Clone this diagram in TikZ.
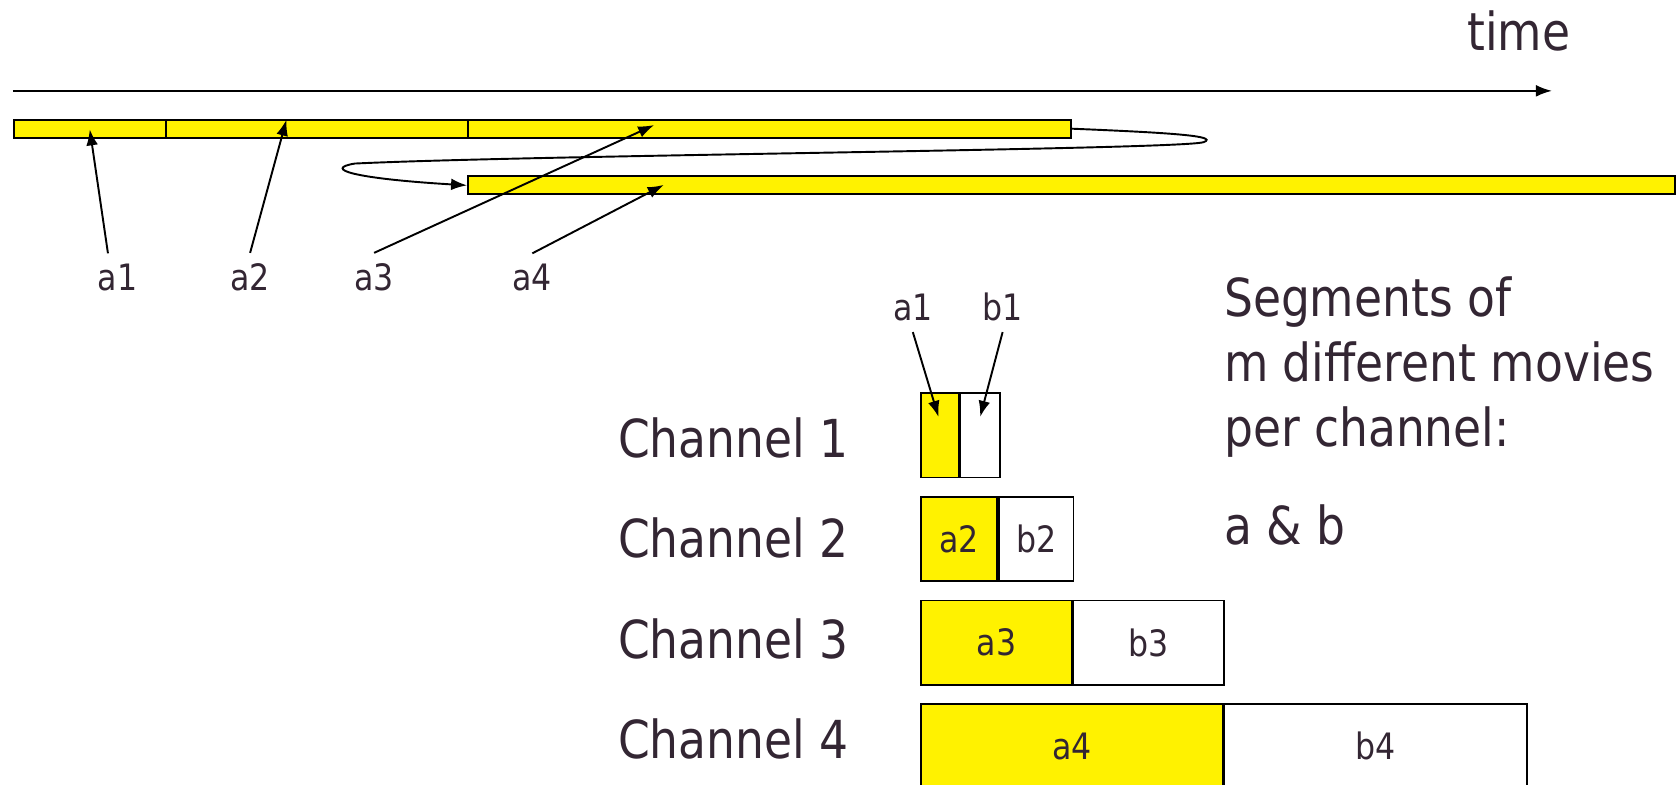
\documentclass[tikz,border=0pt]{standalone}
\usepackage{fontspec}
\setmainfont{DejaVu Sans}[FakeStretch=0.87]
\usetikzlibrary{arrows.meta,positioning}
\definecolor{inkdark}{RGB}{51,38,51}
\tikzset{
segbar/.style={draw,fill=yellow,line width=1.8pt,minimum height=17pt,inner sep=0pt,anchor=north west},
chanbox/.style={draw,line width=1.6pt,minimum height=79pt,inner sep=0pt,text=inkdark,font=\fontsize{34}{40}\selectfont},
moviebox/.style={chanbox,fill=yellow},
tag/.style={text=inkdark,font=\fontsize{34}{40}\selectfont,inner sep=10pt},
bigtext/.style={text=inkdark,font=\fontsize{49}{60}\selectfont,inner sep=0pt},
pointer/.style={-{Latex[length=15pt,width=11pt]},line width=1.8pt}
}
\begin{document}
\begin{tikzpicture}[x=1pt,y=-1pt]
\useasboundingbox (0,0) rectangle (1568,734);
% time axis
\coordinate (t0) at (12,85);
\coordinate (t1) at (1452,85);
\draw[pointer] (t0) -- (t1);
\node[bigtext,anchor=base](time) at (1421,47){time};
% movie a split into segments
\node[segbar,minimum width=142pt](seg1) at (12,111){};
\node[segbar,minimum width=283pt](seg2) at (154,111){};
\node[segbar,minimum width=564pt](seg3) at (437,111){};
\node[segbar,minimum width=1129pt](seg4) at (437,164){};
\draw[pointer] (seg3.east) .. controls (1090,124) and (1142,127) .. (1126,133)
  .. controls (1105,140) and (500,145) .. (332,153)
  .. controls (302,158) and (330,167) .. (seg4.west);
% segment labels
\node[tag,anchor=base](lbl1) at (110,272){a1};
\node[tag,anchor=base](lbl2) at (234,272){a2};
\node[tag,anchor=base](lbl3) at (350,272){a3};
\node[tag,anchor=base](lbl4) at (498,272){a4};
\coordinate (tip1) at (84,121);
\coordinate (tip2) at (268,112);
\coordinate (tip3) at (612,117);
\coordinate (tip4) at (621,173);
\draw[pointer] ([xshift=-9pt]lbl1.north) -- (tip1);
\draw[pointer] (lbl2.north) -- (tip2);
\draw[pointer] (lbl3.north) -- (tip3);
\draw[pointer] (lbl4.north) -- (tip4);
% channels
\node[moviebox,minimum width=35pt,anchor=north west](c1a) at (861,367){};
\node[chanbox,minimum width=37pt,anchor=west](c1b) at (c1a.east){};
\node[moviebox,minimum width=71pt,anchor=north west](c2a) at (861,464){a2};
\node[chanbox,minimum width=70pt,anchor=west](c2b) at (c2a.east){b2};
\node[moviebox,minimum width=141pt,anchor=north west](c3a) at (861,561){a3};
\node[chanbox,minimum width=141pt,anchor=west](c3b) at (c3a.east){b3};
\node[moviebox,minimum width=282pt,anchor=north west](c4a) at (861,658){a4};
\node[chanbox,minimum width=283pt,anchor=west](c4b) at (c4a.east){b4};
\node[bigtext,anchor=base west](ch1) at (578,428){Channel 1};
\node[bigtext,anchor=base west](ch2) at (578,522){Channel 2};
\node[bigtext,anchor=base west](ch3) at (578,616){Channel 3};
\node[bigtext,anchor=base west](ch4) at (578,710){Channel 4};
% first channel close-up labels
\node[tag,anchor=base](top1) at (854,300){a1};
\node[tag,anchor=base](top2) at (938,300){b1};
\coordinate (tip5) at (878,390);
\coordinate (tip6) at (917,390);
\draw[pointer] (top1.south) -- (tip5);
\draw[pointer] (top2.south) -- (tip6);
% note
\node[bigtext,anchor=base west](note1) at (1145,296){Segments of};
\node[bigtext,anchor=base west](note2) at (1145,357){m different movies};
\node[bigtext,anchor=base west](note3) at (1145,418){per channel:};
\node[bigtext,anchor=base west](note4) at (1145,509){a \& b};
\end{tikzpicture}
\end{document}
